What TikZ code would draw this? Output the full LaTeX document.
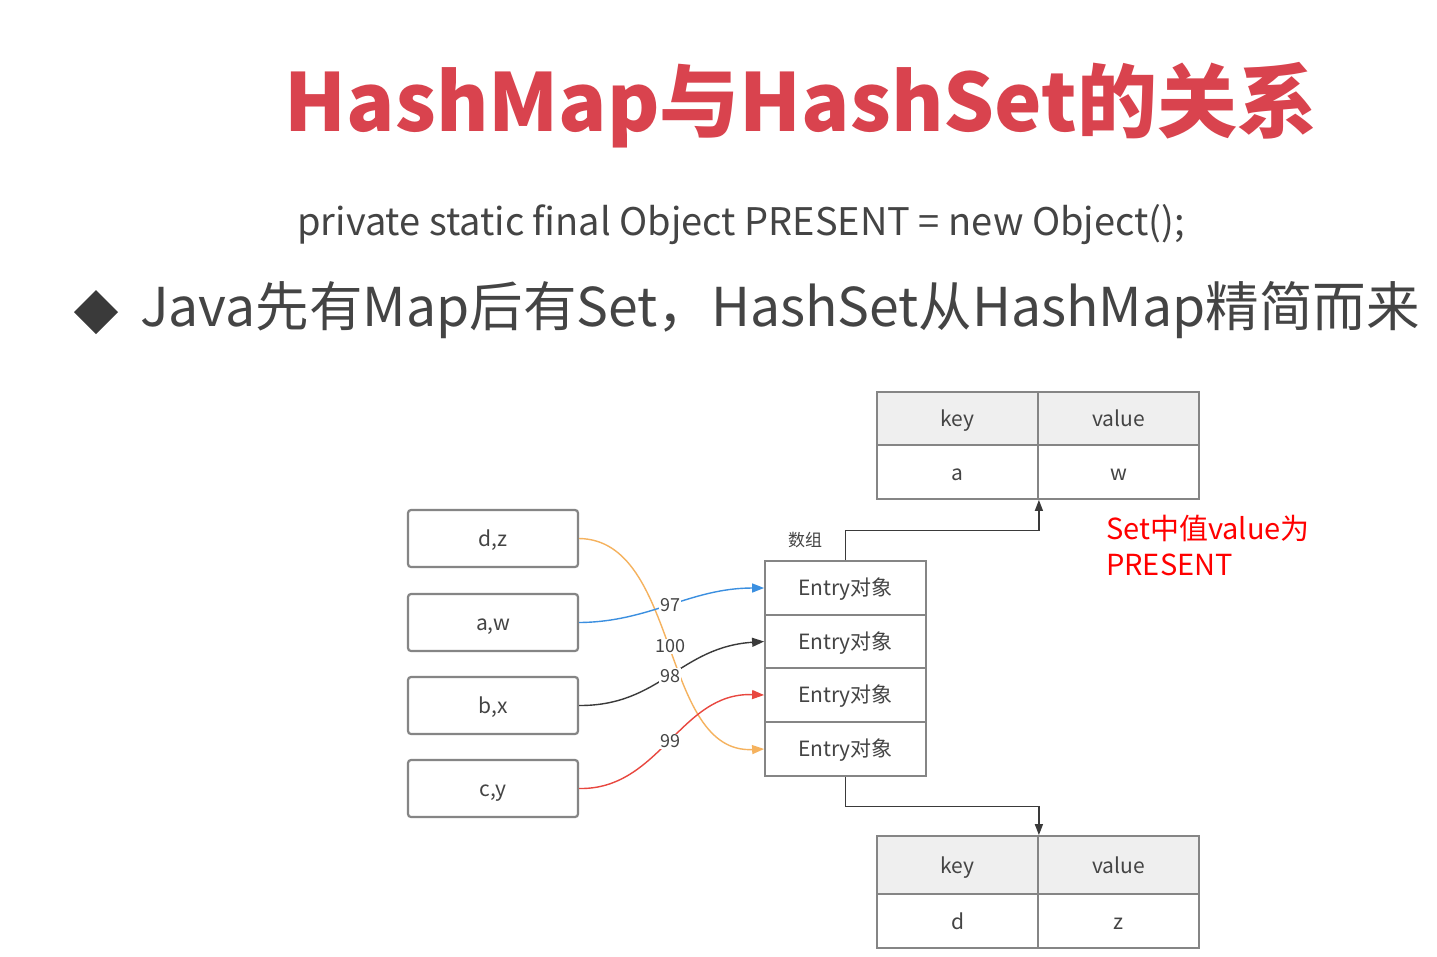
\documentclass[tikz,border=0pt]{standalone}
\usepackage{fontspec}
\setmainfont{Noto Sans CJK SC}
\usetikzlibrary{arrows.meta}
\definecolor{titlered}{HTML}{D9434E}
\definecolor{textgray}{HTML}{444444}
\definecolor{boxgray}{HTML}{858585}
\definecolor{hdrfill}{HTML}{EFEFEF}
\definecolor{cblue}{HTML}{3B8FE0}
\definecolor{cblack}{HTML}{3A3A3A}
\definecolor{cred}{HTML}{E8473F}
\definecolor{corange}{HTML}{F5B25E}
\begin{document}
\begin{tikzpicture}[x=1pt,y=-1pt,
  keybox/.style={draw=boxgray,line width=2.2pt,rounded corners=3pt,minimum width=170pt,minimum height=57pt,inner sep=0pt,font=\fontsize{21}{21}\selectfont,text=textgray,text height=18pt,text depth=2pt},
  entrybox/.style={draw=boxgray,line width=1.8pt,minimum width=161pt,minimum height=53.7pt,inner sep=0pt,font=\fontsize{21}{21}\selectfont,text=textgray,text height=17pt,text depth=2pt},
  cellbox/.style={draw=boxgray,line width=1.8pt,minimum width=161pt,inner sep=0pt,font=\fontsize{21}{21}\selectfont,text=textgray,text height=18pt,text depth=2pt},
  hdr/.style={cellbox,fill=hdrfill},
  numlbl/.style={fill=white,inner sep=1pt,font=\fontsize{18}{18}\selectfont,text=textgray},
  curve/.style={line width=1.4pt,-{Triangle[length=12pt,width=9pt]}},
  elbow/.style={draw=cblack,line width=1.4pt,-{Triangle[length=11pt,width=8pt]}}]
\useasboundingbox (0,0) rectangle (1437,956);
\fill[white] (0,0) rectangle (1437,956);

% title and texts
\node[text=titlered,font=\fontsize{80}{80}\selectfont\bfseries] (title) at (801,105) {HashMap与HashSet的关系};
\node[text=textgray,font=\fontsize{38}{38}\selectfont] (code) at (741,225) {private static final Object PRESENT = new Object();};
\fill[cblack] (96,290) -- (118,312) -- (96,334) -- (74,312) -- cycle;
\node[anchor=west,text=textgray,font=\fontsize{53.5}{53.5}\selectfont,inner sep=0pt] (bullet) at (140,310) {Java先有Map后有Set，HashSet从HashMap精简而来};

% left boxes
\node[keybox] (dz) at (493,538.5) {d,z};
\node[keybox] (aw) at (493,622.5) {a,w};
\node[keybox] (bx) at (493,705.5) {b,x};
\node[keybox] (cy) at (493,788.5) {c,y};

% entry column
\node[entrybox] (e1) at (845.5,588) {Entry对象};
\node[entrybox] (e2) at (845.5,641.5) {Entry对象};
\node[entrybox] (e3) at (845.5,695) {Entry对象};
\node[entrybox] (e4) at (845.5,749) {Entry对象};
\node[text=textgray,font=\fontsize{17}{17}\selectfont] (arr) at (805,540) {数组};

% top table
\node[hdr,minimum height=53pt] (k1) at (957.5,418.5) {key};
\node[hdr,minimum height=53pt] (v1) at (1118.5,418.5) {value};
\node[cellbox,minimum height=54pt] (a1) at (957.5,472) {a};
\node[cellbox,minimum height=54pt] (w1) at (1118.5,472) {w};

% bottom table
\node[hdr,minimum height=58pt] (k2) at (957.5,865) {key};
\node[hdr,minimum height=58pt] (v2) at (1118.5,865) {value};
\node[cellbox,minimum height=54pt] (d2) at (957.5,921) {d};
\node[cellbox,minimum height=54pt] (z2) at (1118.5,921) {z};

% elbow connectors
\draw[elbow] (e1.north) -- ++(0,-30) -| (a1.south east);
\draw[elbow] (e4.south) -- ++(0,30) -| (k2.north east);

% curves
\draw[curve,draw=corange,-{Triangle[length=12pt,width=9pt,fill=corange]}] (dz.east) .. controls (680,540) and (660,754) .. (e4.west) node[numlbl,pos=0.5] {100};
\draw[curve,draw=cblue] (aw.east) .. controls (650,622) and (690,588) .. (e1.west) node[numlbl,pos=0.5] {97};
\draw[curve,draw=cblack] (bx.east) .. controls (660,706) and (680,647) .. (e2.west) node[numlbl,pos=0.5] {98};
\draw[curve,draw=cred] (cy.east) .. controls (660,790) and (680,692) .. (e3.west) node[numlbl,pos=0.5] {99};

% red note
\node[anchor=north west,align=left,text=red,font=\fontsize{29}{36}\selectfont,inner sep=0pt] (note) at (1106,515) {Set中值value为\\PRESENT};
\end{tikzpicture}
\end{document}
